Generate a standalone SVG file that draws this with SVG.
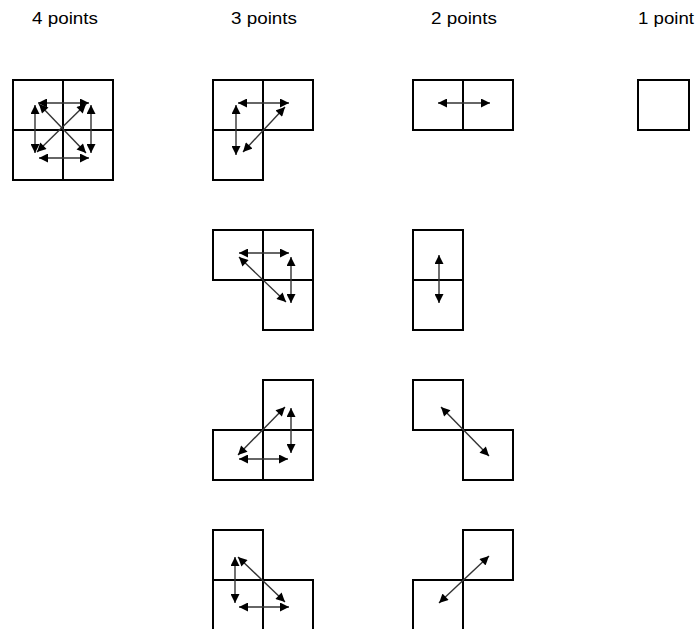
<svg xmlns="http://www.w3.org/2000/svg" width="698" height="629" viewBox="0 0 698 629">
<style>
.cell{fill:#fff;stroke:#000;stroke-width:2}
.arr{stroke:#333;stroke-width:1.4;fill:none;marker-start:url(#ah);marker-end:url(#ah)}
.lbl{font-family:"Liberation Sans",Arial,sans-serif;font-size:16.5px;fill:#000}
</style>
<defs>
<marker id="ah" viewBox="0 0 10 10" refX="10" refY="5" markerWidth="10" markerHeight="9" orient="auto-start-reverse" markerUnits="userSpaceOnUse"><path d="M0,0 L10,5 L0,10 z" fill="#000"/></marker>
</defs>
<rect width="698" height="629" fill="#fff"/>
<g id="labels">
<text class="lbl" x="32" y="24" textLength="66" lengthAdjust="spacingAndGlyphs">4 points</text>
<text class="lbl" x="231" y="24" textLength="66" lengthAdjust="spacingAndGlyphs">3 points</text>
<text class="lbl" x="431" y="24" textLength="66" lengthAdjust="spacingAndGlyphs">2 points</text>
<text class="lbl" x="638" y="24" textLength="56" lengthAdjust="spacingAndGlyphs">1 point</text>
</g>
<g id="four">
<rect class="cell" x="13" y="80" width="50" height="50"/><rect class="cell" x="63" y="80" width="50" height="50"/>
<rect class="cell" x="13" y="130" width="50" height="50"/><rect class="cell" x="63" y="130" width="50" height="50"/>
</g>
<g id="three-a">
<rect class="cell" x="213" y="80" width="50" height="50"/><rect class="cell" x="263" y="80" width="50" height="50"/>
<rect class="cell" x="213" y="130" width="50" height="50"/>
</g>
<g id="three-b">
<rect class="cell" x="213" y="230" width="50" height="50"/><rect class="cell" x="263" y="230" width="50" height="50"/>
<rect class="cell" x="263" y="280" width="50" height="50"/>
</g>
<g id="three-c">
<rect class="cell" x="263" y="380" width="50" height="50"/><rect class="cell" x="213" y="430" width="50" height="50"/>
<rect class="cell" x="263" y="430" width="50" height="50"/>
</g>
<g id="three-d">
<rect class="cell" x="213" y="530" width="50" height="50"/><rect class="cell" x="213" y="580" width="50" height="50"/>
<rect class="cell" x="263" y="580" width="50" height="50"/>
</g>
<g id="two-a">
<rect class="cell" x="413" y="80" width="50" height="50"/><rect class="cell" x="463" y="80" width="50" height="50"/>
</g>
<g id="two-b">
<rect class="cell" x="413" y="230" width="50" height="50"/><rect class="cell" x="413" y="280" width="50" height="50"/>
</g>
<g id="two-c">
<rect class="cell" x="413" y="380" width="50" height="50"/><rect class="cell" x="463" y="430" width="50" height="50"/>
</g>
<g id="two-d">
<rect class="cell" x="463" y="530" width="50" height="50"/><rect class="cell" x="413" y="580" width="50" height="50"/>
</g>
<g id="one">
<rect class="cell" x="638" y="80" width="51" height="50"/>
</g>
<g id="connectors">
<line class="arr" x1="38" y1="103" x2="89" y2="103"/>
<line class="arr" x1="39" y1="158" x2="89" y2="158"/>
<line class="arr" x1="35" y1="105" x2="35" y2="153"/>
<line class="arr" x1="91" y1="105" x2="91" y2="153"/>
<line class="arr" x1="39" y1="104" x2="86" y2="153"/>
<line class="arr" x1="86" y1="104" x2="37" y2="152"/>

<line class="arr" x1="238" y1="103" x2="289" y2="103"/>
<line class="arr" x1="236" y1="105" x2="236" y2="155"/>
<line class="arr" x1="285" y1="107" x2="243" y2="152"/>

<line class="arr" x1="239" y1="253" x2="289" y2="253"/>
<line class="arr" x1="291" y1="257" x2="291" y2="303"/>
<line class="arr" x1="239" y1="257" x2="286" y2="302"/>

<line class="arr" x1="285" y1="407" x2="238" y2="455"/>
<line class="arr" x1="291" y1="408" x2="291" y2="453"/>
<line class="arr" x1="239" y1="459" x2="288" y2="459"/>

<line class="arr" x1="235" y1="557" x2="235" y2="603"/>
<line class="arr" x1="238" y1="557" x2="285" y2="602"/>
<line class="arr" x1="239" y1="607" x2="289" y2="607"/>

<line class="arr" x1="438" y1="103" x2="490" y2="103"/>
<line class="arr" x1="439" y1="255" x2="439" y2="303"/>
<line class="arr" x1="441" y1="407" x2="489" y2="456"/>
<line class="arr" x1="489" y1="556" x2="439" y2="603"/>
</g>
</svg>
